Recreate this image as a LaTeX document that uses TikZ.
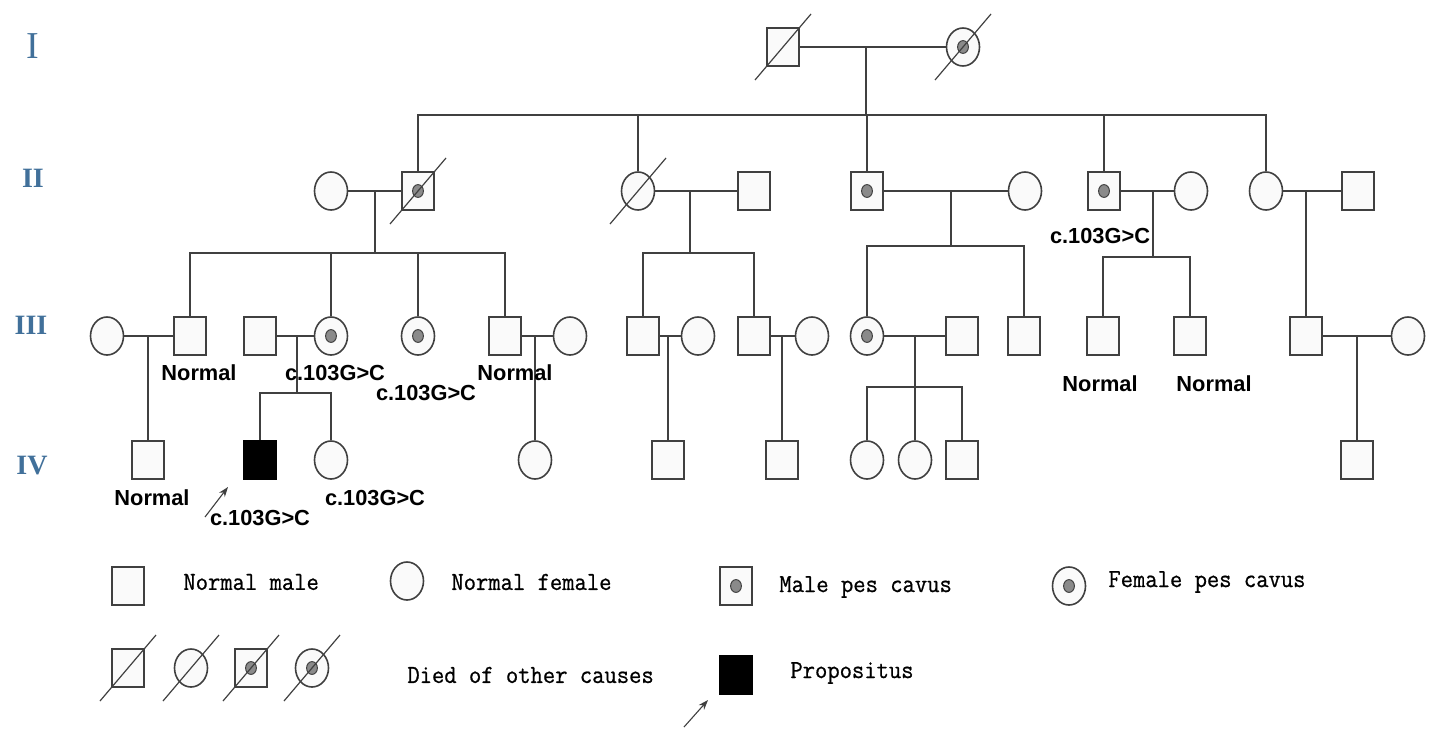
\documentclass[tikz,border=0pt]{standalone}
\usepackage{fontspec}
\setmainfont{Liberation Serif}
\newfontfamily\notefont{Liberation Sans}
\newfontfamily\legfont[FakeBold=0.7, FakeStretch=0.92]{Latin Modern Mono}
\usepackage{tikz}
\usetikzlibrary{arrows.meta,shapes.geometric,calc}
\definecolor{genblue}{HTML}{41709A}
\definecolor{linegray}{HTML}{404040}
\definecolor{symfill}{HTML}{FAFAFA}
\definecolor{dotgray}{HTML}{8A8A8A}

\begin{document}
\begin{tikzpicture}[
    x=0.5pt, y=-0.5pt,
    ln/.style={draw=linegray, line width=0.8pt},
    male/.style={rectangle, draw=linegray, line width=0.8pt, fill=symfill,
                 minimum width=16pt, minimum height=19pt, inner sep=0pt},
    female/.style={ellipse, draw=linegray, line width=0.8pt, fill=symfill,
                   minimum width=16.5pt, minimum height=19pt, inner sep=0pt},
    aff/.style={path picture={\filldraw[fill=dotgray, draw=linegray, line width=0.5pt]
                (path picture bounding box.center) ellipse [x radius=2.7pt, y radius=3.2pt];}},
    prop/.style={fill=black, draw=black},
    deadln/.style={draw=linegray, line width=0.6pt},
    gen/.style={text=genblue, font=\bfseries\fontsize{14}{14}\selectfont},
    note/.style={font=\notefont\bfseries\fontsize{10.9}{11}\selectfont, inner sep=0pt},
    leg/.style={font=\legfont\fontsize{13}{13}\selectfont, anchor=west, inner sep=0pt},
    arr/.style={-{Stealth[length=5pt, width=3.6pt]}, draw=linegray, line width=0.55pt},
]
    \useasboundingbox (0,0) rectangle (1434,728);

    % generation labels
    \node[text=genblue, font=\fontsize{19}{19}\selectfont] (gI) at (33,46) {I};
    \node[gen] (gII) at (33,178) {II};
    \node[gen] (gIII) at (31,325) {III};
    \node[gen] (gIV) at (32,466) {IV};

    % generation I
    \node[male] (i1) at (783,47) {};
    \node[female, aff] (i2) at (963,47) {};

    % generation II
    \node[female] (ii1) at (331,191) {};
    \node[male, aff] (ii2) at (418,191) {};
    \node[female] (ii3) at (638,191) {};
    \node[male] (ii4) at (754,191) {};
    \node[male, aff] (ii5) at (867,191) {};
    \node[female] (ii6) at (1025,191) {};
    \node[male, aff] (ii7) at (1104,191) {};
    \node[female] (ii8) at (1191,191) {};
    \node[female] (ii9) at (1266,191) {};
    \node[male] (ii10) at (1358,191) {};

    % generation III
    \node[female] (iii1) at (107,336) {};
    \node[male] (iii2) at (190,336) {};
    \node[male] (iii3) at (260,336) {};
    \node[female, aff] (iii4) at (331,336) {};
    \node[female, aff] (iii5) at (418,336) {};
    \node[male] (iii6) at (505,336) {};
    \node[female] (iii7) at (570,336) {};
    \node[male] (iii8) at (643,336) {};
    \node[female] (iii9) at (698,336) {};
    \node[male] (iii10) at (754,336) {};
    \node[female] (iii11) at (812,336) {};
    \node[female, aff] (iii12) at (867,336) {};
    \node[male] (iii13) at (962,336) {};
    \node[male] (iii14) at (1024,336) {};
    \node[male] (iii15) at (1103,336) {};
    \node[male] (iii16) at (1190,336) {};
    \node[male] (iii17) at (1306,336) {};
    \node[female] (iii18) at (1408,336) {};

    % generation IV
    \node[male] (iv1) at (148,460) {};
    \node[male, prop] (iv2) at (260,460) {};
    \node[female] (iv3) at (331,460) {};
    \node[female] (iv4) at (535,460) {};
    \node[male] (iv5) at (668,460) {};
    \node[male] (iv6) at (782,460) {};
    \node[female] (iv7) at (867,460) {};
    \node[female] (iv8) at (915,460) {};
    \node[male] (iv9) at (962,460) {};
    \node[male] (iv10) at (1357,460) {};

    % marriage and sibship points
    \coordinate (mI) at (866,47);   \coordinate (sI) at (866,115);
    \coordinate (m1) at (375,191);  \coordinate (s1) at (375,253);
    \coordinate (m2) at (690,191);  \coordinate (s2) at (690,253);
    \coordinate (m3) at (951,191);  \coordinate (s3) at (951,246);
    \coordinate (m4) at (1153,191); \coordinate (s4) at (1153,257);
    \coordinate (m5) at (1306,191);
    \coordinate (m6) at (148,336);
    \coordinate (m7) at (297,336);  \coordinate (s7) at (297,393);
    \coordinate (m8) at (535,336);
    \coordinate (m9) at (668,336);
    \coordinate (m10) at (782,336);
    \coordinate (m11) at (915,336); \coordinate (s11) at (915,387);
    \coordinate (m12) at (1357,336);

    % generation I -> II
    \draw[ln] (i1) -- (i2);
    \draw[ln] (mI) -- (sI);
    \draw[ln] (ii2) |- (sI) -| (ii9);
    \foreach \c in {ii3,ii5,ii7}
        \draw[ln] (\c) -- (\c |- sI);

    % generation II -> III
    \draw[ln] (ii1) -- (ii2);
    \draw[ln] (m1) -- (s1);
    \draw[ln] (iii2) |- (s1) -| (iii6);
    \foreach \c in {iii4,iii5}
        \draw[ln] (\c) -- (\c |- s1);
    \draw[ln] (ii3) -- (ii4);
    \draw[ln] (m2) -- (s2);
    \draw[ln] (iii8) |- (s2) -| (iii10);
    \draw[ln] (ii5) -- (ii6);
    \draw[ln] (m3) -- (s3);
    \draw[ln] (iii12) |- (s3) -| (iii14);
    \draw[ln] (ii7) -- (ii8);
    \draw[ln] (m4) -- (s4);
    \draw[ln] (iii15) |- (s4) -| (iii16);
    \draw[ln] (ii9) -- (ii10);
    \draw[ln] (m5) -- (iii17);

    % generation III -> IV
    \draw[ln] (iii1) -- (iii2);
    \draw[ln] (m6) -- (iv1);
    \draw[ln] (iii3) -- (iii4);
    \draw[ln] (m7) -- (s7);
    \draw[ln] (iv2) |- (s7) -| (iv3);
    \draw[ln] (iii6) -- (iii7);
    \draw[ln] (m8) -- (iv4);
    \draw[ln] (iii8) -- (iii9);
    \draw[ln] (m9) -- (iv5);
    \draw[ln] (iii10) -- (iii11);
    \draw[ln] (m10) -- (iv6);
    \draw[ln] (iii12) -- (iii13);
    \draw[ln] (m11) -- (iv8);
    \draw[ln] (iv7) |- (s11) -| (iv9);
    \draw[ln] (iii17) -- (iii18);
    \draw[ln] (m12) -- (iv10);

    % labels
    \node[note] (t1) at (1100,236) {c.103G>C};
    \node[note] (t2) at (199,373) {Normal};
    \node[note] (t3) at (335,373) {c.103G>C};
    \node[note] (t4) at (426,393) {c.103G>C};
    \node[note] (t5) at (515,373) {Normal};
    \node[note] (t6) at (1100,384) {Normal};
    \node[note] (t7) at (1214,384) {Normal};
    \node[note] (t8) at (152,498) {Normal};
    \node[note] (t9) at (260,518) {c.103G>C};
    \node[note] (t10) at (375,498) {c.103G>C};

    % propositus arrow
    \coordinate (pa) at (205,517);
    \coordinate (pb) at (228,487);
    \draw[arr] (pa) -- (pb);

    % legend
    \node[male] (lm) at (128,586) {};
    \node[leg] (lmt) at (183,582) {Normal male};
    \node[female] (lf) at (407,581) {};
    \node[leg] (lft) at (451,582) {Normal female};
    \node[male, aff] (lma) at (736,586) {};
    \node[leg] (lmat) at (779,587) {Male pes cavus};
    \node[female, aff] (lfa) at (1069,586) {};
    \node[leg] (lfat) at (1108,582) {Female pes cavus};
    \node[male] (ld1) at (128,668) {};
    \node[female] (ld2) at (191,668) {};
    \node[male, aff] (ld3) at (251,668) {};
    \node[female, aff] (ld4) at (312,668) {};
    \node[leg] (ldt) at (407,675) {Died of other causes};
    \node[male, prop] (lp) at (736,675) {};
    \node[leg] (lpt) at (790,673) {Propositus};
    \coordinate (la) at (684,727);
    \coordinate (lb) at (708,700);
    \draw[arr] (la) -- (lb);

    % deceased strokes
    \foreach \n in {i1,i2,ii2,ii3,ld1,ld2,ld3,ld4}
        \draw[deadln] ($(\n.center)+(-28,33)$) -- ($(\n.center)+(28,-33)$);
\end{tikzpicture}
\end{document}
